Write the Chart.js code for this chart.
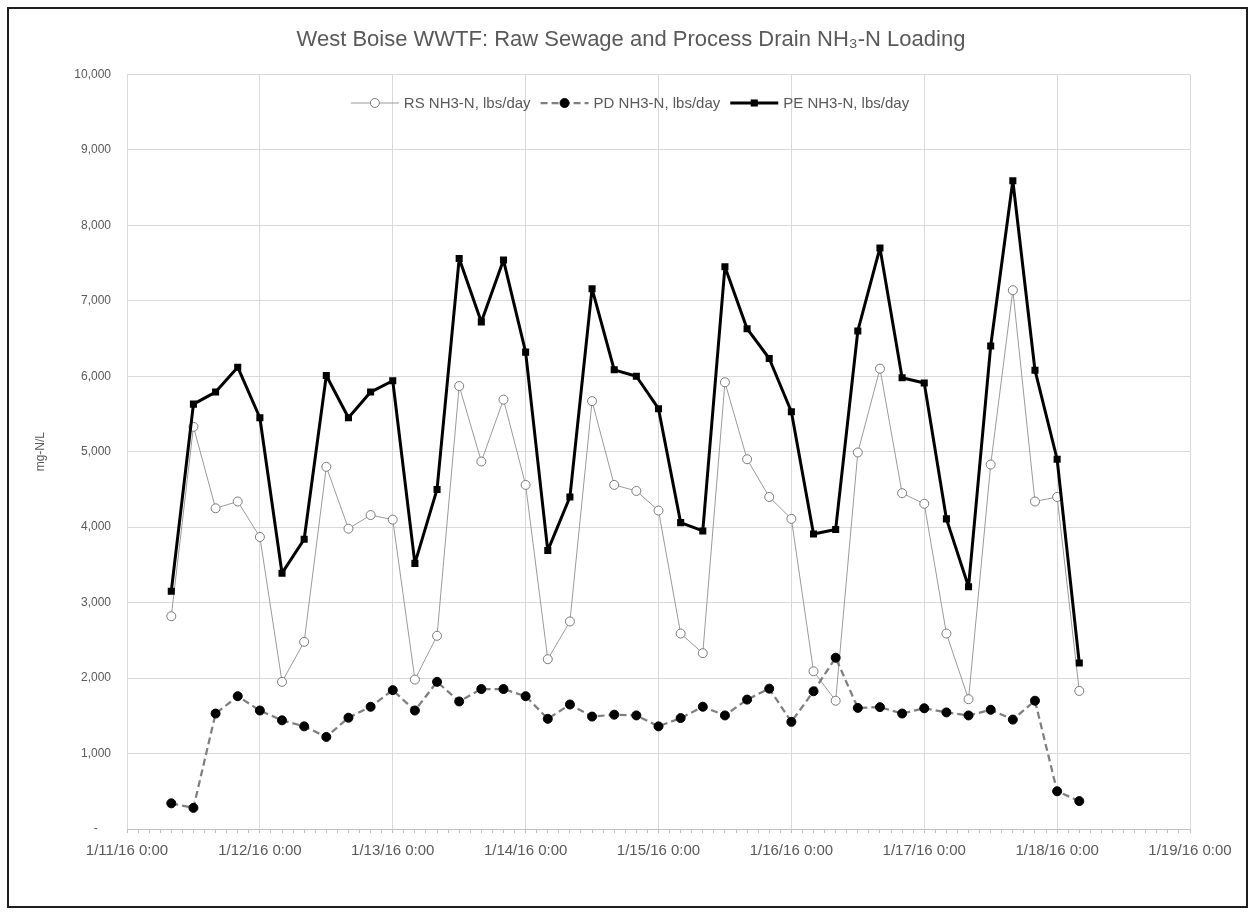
<!DOCTYPE html>
<html>
<head>
<meta charset="utf-8">
<script src="https://cdn.jsdelivr.net/npm/chart.js@4.4.0/dist/chart.umd.min.js"></script>
<style>
  html, body { margin: 0; padding: 0; background: #ffffff; }
  #frame { position: absolute; left: 7px; top: 7px; width: 1241px; height: 901px; box-sizing: border-box; border: 2px solid #1e1e1e; }
  #c { position: absolute; left: 0; top: 0; }
</style>
</head>
<body>
<div id="frame"></div>
<canvas id="c" width="1255" height="916"></canvas>
<script>
// ---- data ----
const times = [
  "1/11/16 8:00","1/11/16 12:00","1/11/16 16:00","1/11/16 20:00",
  "1/12/16 0:00","1/12/16 4:00","1/12/16 8:00","1/12/16 12:00","1/12/16 16:00","1/12/16 20:00",
  "1/13/16 0:00","1/13/16 4:00","1/13/16 8:00","1/13/16 12:00","1/13/16 16:00","1/13/16 20:00",
  "1/14/16 0:00","1/14/16 4:00","1/14/16 8:00","1/14/16 12:00","1/14/16 16:00","1/14/16 20:00",
  "1/15/16 0:00","1/15/16 4:00","1/15/16 8:00","1/15/16 12:00","1/15/16 16:00","1/15/16 20:00",
  "1/16/16 0:00","1/16/16 4:00","1/16/16 8:00","1/16/16 12:00","1/16/16 16:00","1/16/16 20:00",
  "1/17/16 0:00","1/17/16 4:00","1/17/16 8:00","1/17/16 12:00","1/17/16 16:00","1/17/16 20:00",
  "1/18/16 0:00","1/18/16 4:00"
];
const rsNH3 = [2820,5330,4250,4340,3870,1950,2480,4800,3980,4160,4100,1980,2560,5870,4870,5690,4560,2250,2750,5670,4560,4480,4220,2590,2330,5920,4900,4400,4110,2090,1700,4990,6100,4450,4310,2590,1720,4830,7140,4340,4400,1830];
const pdNH3 = [340,280,1530,1760,1570,1440,1360,1220,1475,1620,1840,1570,1950,1690,1855,1855,1760,1460,1650,1490,1515,1505,1360,1470,1620,1505,1715,1860,1420,1825,2270,1605,1615,1530,1600,1545,1505,1580,1450,1700,500,370];
const peNH3 = [3150,5630,5790,6120,5450,3390,3840,6010,5450,5790,5940,3520,4500,7560,6720,7540,6320,3690,4400,7160,6085,6000,5570,4060,3950,7450,6630,6235,5530,3910,3970,6600,7700,5980,5910,4110,3210,6400,8590,6080,4900,2200];
const seriesNames = ["RS NH3-N, lbs/day", "PD NH3-N, lbs/day", "PE NH3-N, lbs/day"];
const xStart = "1/11/16 0:00";
const xEnd = "1/19/16 0:00";
const chartTitle = "West Boise WWTF: Raw Sewage and Process Drain NH\u2083-N Loading";
const yTitle = "mg-N/L";

// ---- helpers ----
function parseTime(s) {
  const [d, t] = s.split(" ");
  const [m, day, yy] = d.split("/").map(Number);
  const [h, mi] = t.split(":").map(Number);
  return Date.UTC(2000 + yy, m - 1, day, h, mi);
}
const HOUR = 3600000;
function pts(vals) { return vals.map((v, i) => ({ x: parseTime(times[i]), y: v })); }
function isDay(v) { const d = new Date(v); return d.getUTCHours() === 0 && d.getUTCMinutes() === 0; }
function fmtDay(v) {
  const d = new Date(v);
  return (d.getUTCMonth() + 1) + "/" + d.getUTCDate() + "/" + String(d.getUTCFullYear()).slice(2) + " 0:00";
}

const FONT = "'Liberation Sans', Arial, sans-serif";
const GREY_TXT = "#595959";

// custom legend drawn inside the plot area (line + marker samples)
const lineLegend = {
  id: 'lineLegend',
  afterDatasetsDraw(chart) {
    const ctx = chart.ctx;
    const y = 103;
    const segW = 48;
    ctx.save();
    ctx.font = "15px " + FONT;
    ctx.textBaseline = "middle";
    const widths = chart.data.datasets.map(ds => segW + 5 + ctx.measureText(ds.label).width);
    const gap = 10;
    const total = widths.reduce((a, b) => a + b, 0) + gap * (widths.length - 1);
    let x = 630 - total / 2;
    chart.data.datasets.forEach((ds, i) => {
      ctx.save();
      ctx.strokeStyle = ds.borderColor;
      ctx.lineWidth = ds.borderWidth;
      ctx.setLineDash(ds.borderDash || []);
      ctx.beginPath();
      ctx.moveTo(x, y); ctx.lineTo(x + segW, y); ctx.stroke();
      ctx.setLineDash([]);
      const cx = x + segW / 2;
      ctx.fillStyle = ds.pointBackgroundColor;
      ctx.strokeStyle = ds.pointBorderColor;
      ctx.lineWidth = ds.pointBorderWidth;
      if (ds.pointStyle === 'rect') {
        const s = ds.pointRadius * Math.SQRT1_2;
        ctx.fillRect(cx - s, y - s, 2 * s, 2 * s);
      } else {
        ctx.beginPath();
        ctx.arc(cx, y, ds.pointRadius, 0, Math.PI * 2);
        ctx.fill(); ctx.stroke();
      }
      ctx.restore();
      ctx.fillStyle = GREY_TXT;
      ctx.textAlign = "left";
      ctx.fillText(ds.label, x + segW + 5, y + 1);
      x += widths[i] + gap;
    });
    ctx.restore();
  }
};

new Chart(document.getElementById('c'), {
  type: 'line',
  data: {
    datasets: [
      {
        label: seriesNames[0], data: pts(rsNH3), order: 2,
        borderColor: '#9a9a9a', borderWidth: 1, tension: 0, borderJoinStyle: 'round',
        pointStyle: 'circle', pointRadius: 4.5, pointBackgroundColor: '#ffffff',
        pointBorderColor: '#7a7a7a', pointBorderWidth: 1
      },
      {
        label: seriesNames[1], data: pts(pdNH3), order: 1,
        borderColor: '#7f7f7f', borderWidth: 2.25, borderDash: [7, 4], tension: 0, borderJoinStyle: 'round',
        pointStyle: 'circle', pointRadius: 4.5, pointBackgroundColor: '#000000',
        pointBorderColor: '#000000', pointBorderWidth: 1
      },
      {
        label: seriesNames[2], data: pts(peNH3), order: 0,
        borderColor: '#000000', borderWidth: 3, tension: 0, borderJoinStyle: 'round',
        pointStyle: 'rect', pointRadius: 5, pointBackgroundColor: '#000000',
        pointBorderColor: '#000000', pointBorderWidth: 0
      }
    ]
  },
  options: {
    responsive: false,
    animation: false,
    devicePixelRatio: 1,
    layout: { padding: { left: 20, right: 13, top: 0, bottom: 0 } },
    plugins: {
      legend: { display: false },
      tooltip: { enabled: false },
      title: {
        display: true, text: chartTitle, color: GREY_TXT,
        font: { family: FONT, size: 22, weight: 'normal' },
        padding: { top: 27, bottom: 21 }
      }
    },
    scales: {
      x: {
        type: 'linear',
        min: parseTime(xStart), max: parseTime(xEnd),
        afterFit(scale) { scale.height = 87; },
        border: { display: true, color: '#bfbfbf', width: 1 },
        grid: {
          color: (c) => (c.tick && isDay(c.tick.value)) ? '#d9d9d9' : 'rgba(0,0,0,0)',
          tickColor: '#bfbfbf', tickLength: 4, lineWidth: 1
        },
        ticks: {
          stepSize: 2 * HOUR, maxTicksLimit: 200, autoSkip: false, maxRotation: 0,
          padding: 9, color: GREY_TXT, font: { family: FONT, size: 15 },
          callback: (v) => isDay(v) ? fmtDay(v) : ''
        }
      },
      y: {
        min: 0, max: 10000,
        afterFit(scale) { scale.width = 107; },
        border: { display: false },
        grid: { color: '#d9d9d9', lineWidth: 1, drawTicks: false },
        ticks: {
          stepSize: 1000, padding: 16, color: GREY_TXT, font: { family: FONT, size: 12 },
          callback: (v) => v === 0 ? '-    ' : v.toLocaleString('en-US')
        },
        title: {
          display: true, text: yTitle, color: GREY_TXT,
          font: { family: FONT, size: 12 }, padding: { top: 13, bottom: 0 }
        }
      },
      yRight: {
        position: 'right', min: 0, max: 10000,
        afterFit(scale) { scale.width = 52; },
        border: { display: false },
        grid: { drawOnChartArea: false, drawTicks: false },
        ticks: { display: false }
      }
    }
  },
  plugins: [lineLegend]
});
</script>
</body>
</html>
